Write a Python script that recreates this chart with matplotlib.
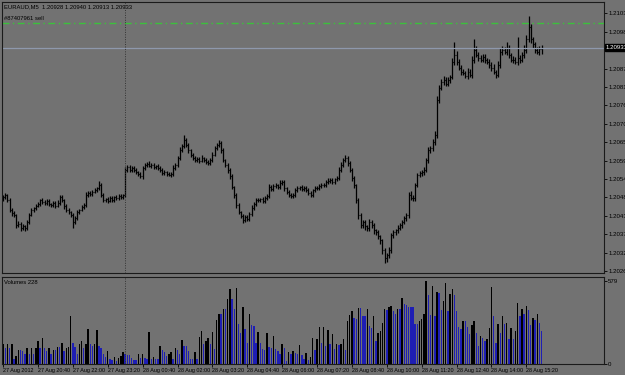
import numpy as np
import matplotlib.pyplot as plt
from matplotlib import transforms

# EURAUD M5 bars, 27 Aug 19:20 onwards; prices in points above 1.20000
first_open = 480
close_pts = [
    486, 492, 477, 447, 438, 432, 402, 405, 393, 399, 393, 411, 432, 447, 453, 459, 465, 477, 471, 468,
    474, 465, 462, 468, 459, 468, 486, 477, 459, 447, 441, 432, 411, 423, 441, 447, 456, 462, 492, 498,
    495, 501, 507, 513, 522, 492, 477, 480, 474, 483, 477, 486, 483, 489, 486, 492, 567, 576, 567, 573,
    567, 561, 555, 549, 573, 582, 585, 579, 582, 576, 579, 573, 567, 558, 561, 555, 552, 555, 573, 582,
    603, 627, 639, 657, 642, 627, 612, 603, 597, 600, 594, 603, 597, 591, 588, 597, 612, 633, 642, 648,
    627, 597, 582, 567, 549, 516, 492, 462, 441, 429, 417, 426, 420, 435, 453, 465, 477, 477, 480, 474,
    483, 489, 516, 510, 519, 522, 516, 528, 531, 513, 501, 492, 489, 492, 507, 513, 516, 510, 513, 507,
    498, 492, 507, 513, 513, 519, 522, 522, 531, 534, 537, 531, 540, 543, 567, 582, 597, 603, 588, 567,
    543, 522, 477, 432, 402, 411, 399, 393, 411, 402, 387, 381, 369, 357, 327, 303, 312, 327, 372, 381,
    387, 393, 402, 411, 423, 432, 492, 483, 483, 522, 552, 558, 561, 567, 597, 627, 633, 651, 672, 777,
    813, 831, 837, 825, 837, 846, 891, 912, 891, 873, 861, 858, 849, 861, 852, 897, 927, 912, 903, 897,
    906, 897, 891, 882, 873, 861, 852, 882, 921, 927, 921, 933, 912, 897, 897, 891, 903, 897, 912, 927,
    957, 993, 957, 942, 927, 921, 928, 933,
]
up_wick = [
    6, 5, 4, 7, 5, 6, 4, 8, 5, 6, 4, 7, 5, 6, 4, 5, 7, 4, 6, 5,
    5, 7, 4, 6, 5, 8, 6, 5, 4, 6, 5, 4, 6, 5, 7, 4, 5, 6, 8, 5,
    6, 5, 7, 4, 12, 5, 6, 4, 7, 5, 6, 4, 5, 6, 5, 4, 9, 6, 5, 7,
    5, 6, 4, 5, 7, 6, 5, 8, 5, 6, 4, 7, 5, 6, 5, 4, 6, 5, 8, 6,
    7, 8, 6, 15, 5, 6, 4, 7, 5, 6, 5, 8, 4, 6, 5, 7, 8, 6, 5, 8,
    6, 5, 4, 7, 5, 6, 4, 5, 6, 4, 5, 7, 6, 5, 8, 6, 5, 7, 4, 6,
    5, 6, 9, 5, 6, 7, 4, 8, 6, 5, 4, 6, 5, 7, 6, 5, 4, 6, 5, 7,
    6, 5, 4, 6, 5, 7, 6, 5, 6, 8, 5, 6, 4, 7, 9, 8, 6, 10, 5, 6,
    5, 6, 4, 5, 7, 6, 5, 4, 8, 6, 5, 4, 6, 5, 4, 6, 8, 9, 7, 6,
    5, 8, 6, 7, 5, 6, 9, 12, 8, 6, 7, 5, 6, 8, 7, 9, 6, 8, 10, 12,
    8, 7, 10, 9, 8, 6, 12, 36, 10, 8, 7, 9, 6, 10, 8, 12, 30, 9, 8, 7,
    9, 8, 6, 7, 8, 10, 6, 12, 10, 9, 7, 15, 8, 6, 10, 7, 60, 9, 8, 12,
    14, 33, 9, 8, 7, 8, 9, 7,
]
down_wick = [
    5, 6, 7, 5, 8, 6, 9, 5, 7, 6, 8, 5, 6, 4, 5, 6, 4, 7, 5, 6,
    6, 5, 7, 5, 6, 4, 5, 6, 8, 5, 7, 6, 18, 6, 5, 7, 4, 6, 5, 6,
    5, 7, 4, 6, 5, 7, 6, 5, 6, 4, 7, 5, 6, 5, 7, 6, 5, 7, 6, 5,
    6, 5, 7, 6, 8, 5, 6, 4, 5, 7, 6, 5, 6, 7, 5, 6, 4, 7, 5, 6,
    5, 6, 7, 5, 6, 8, 5, 7, 6, 5, 6, 4, 7, 6, 5, 6, 5, 4, 7, 6,
    8, 6, 7, 9, 8, 7, 9, 8, 7, 6, 10, 6, 7, 5, 6, 7, 5, 6, 7, 5,
    6, 7, 5, 6, 5, 7, 6, 5, 6, 8, 7, 6, 5, 7, 5, 6, 7, 5, 6, 7,
    6, 5, 7, 6, 5, 6, 7, 5, 6, 5, 6, 7, 5, 6, 5, 6, 7, 5, 8, 7,
    8, 9, 10, 12, 9, 8, 10, 9, 8, 9, 10, 8, 9, 10, 12, 15, 10, 9, 8, 7,
    8, 7, 6, 8, 7, 9, 8, 7, 9, 8, 7, 6, 8, 9, 7, 8, 9, 8, 10, 9,
    10, 8, 9, 8, 7, 9, 8, 10, 9, 8, 9, 7, 8, 9, 8, 10, 9, 8, 9, 8,
    7, 9, 8, 10, 9, 8, 9, 8, 10, 9, 8, 9, 10, 8, 9, 8, 9, 10, 8, 9,
    10, 9, 12, 10, 9, 8, 9, 15,
]
volumes = [
    138, 114, 138, 114, 138, 36, 57, 100, 100, 93, 67, 114, 72, 114, 72, 114, 157, 114, 181, 114,
    93, 114, 67, 100, 100, 121, 121, 145, 93, 114, 121, 336, 150, 121, 72, 138, 157, 114, 138, 243,
    143, 129, 138, 236, 129, 114, 72, 50, 93, 36, 29, 50, 21, 43, 57, 86, 72, 64, 64, 43,
    29, 29, 72, 43, 67, 43, 36, 222, 36, 50, 36, 36, 129, 100, 86, 57, 72, 86, 36, 114,
    100, 72, 165, 129, 129, 93, 36, 36, 86, 36, 186, 229, 143, 160, 181, 143, 222, 107, 305, 348,
    348, 384, 384, 455, 520, 455, 384, 529, 276, 217, 395, 241, 145, 350, 272, 265, 145, 222, 150, 107,
    100, 215, 120, 110, 193, 107, 90, 72, 143, 114, 21, 86, 72, 93, 80, 70, 136, 64, 36, 79,
    29, 50, 179, 100, 172, 258, 150, 258, 129, 236, 143, 207, 107, 143, 130, 143, 172, 100, 300, 340,
    372, 320, 315, 393, 393, 336, 336, 386, 265, 250, 336, 157, 215, 229, 286, 386, 379, 395, 408, 372,
    350, 386, 386, 458, 420, 410, 400, 400, 398, 279, 279, 300, 315, 350, 579, 479, 343, 543, 336, 500,
    493, 379, 443, 565, 372, 486, 522, 479, 372, 258, 243, 300, 300, 258, 207, 272, 300, 215, 129, 193,
    179, 157, 172, 250, 536, 336, 150, 279, 215, 336, 279, 286, 172, 250, 172, 229, 429, 336, 386, 350,
    408, 379, 272, 322, 308, 350, 286, 228,
]

time_labels = ["27 Aug 2012", "27 Aug 20:40", "27 Aug 22:00", "27 Aug 23:20",
               "28 Aug 00:40", "28 Aug 02:00", "28 Aug 03:20", "28 Aug 04:40",
               "28 Aug 06:00", "28 Aug 07:20", "28 Aug 08:40", "28 Aug 10:00",
               "28 Aug 11:20", "28 Aug 12:40", "28 Aug 14:00", "28 Aug 15:20"]
price_ticks = [1.20265, 1.20320, 1.20375, 1.20430, 1.20485, 1.20540, 1.20595,
               1.20650, 1.20705, 1.20760, 1.20815, 1.20870, 1.20980, 1.21035]
bid = 1.20933
order_price = 1.21005
day_start = 56  # first bar of 28 Aug

plt.rcParams['font.family'] = ['Liberation Sans', 'DejaVu Sans']
BG = '#727272'
BLUE = '#1e1eb4'
FS = 4.2

close = 1.2 + np.array(close_pts) / 1e5
opens = np.r_[1.2 + first_open / 1e5, close[:-1]]
high = np.maximum(opens, close) + np.array(up_wick) / 1e5
low = np.minimum(opens, close) - np.array(down_wick) / 1e5
idx = np.arange(len(close))
vol = np.array(volumes)
vcol = ['black'] + ['black' if vol[i] > vol[i - 1] else BLUE for i in range(1, len(vol))]

fig = plt.figure(figsize=(6.25, 3.75), dpi=100, facecolor=BG)
ax = fig.add_axes([2 / 625, 102 / 375, 602 / 625, 271 / 375], facecolor=BG)
axv = fig.add_axes([2 / 625, 11 / 375, 602 / 625, 87 / 375], facecolor=BG, sharex=ax)

# price bars
ax.vlines(idx, low, high, color='black', lw=0.9)
ax.hlines(opens, idx - 0.45, idx, color='black', lw=0.8)
ax.hlines(close, idx, idx + 0.45, color='black', lw=0.8)

ax.axhline(order_price, color='#3cc03c', lw=1.0, ls=(0, (5, 2.5, 1, 2.5)))
ax.axhline(bid, color='#8e98ac', lw=0.9)
for a in (ax, axv):
    a.axvline(day_start - 0.3, color='#333333', lw=0.7, ls=(0, (1, 1.5)))

ax.set_xlim(-0.5, 275.6)
ax.set_ylim(1.20259, 1.21069)
ax.yaxis.tick_right()
ax.set_yticks(price_ticks)
ax.set_yticklabels([f"{p:.5f}" for p in price_ticks])
ax.tick_params(axis='y', direction='out', length=2, width=0.6, labelsize=4.4, pad=1, colors='black')
ax.tick_params(axis='x', bottom=False, labelbottom=False)

tr = transforms.blended_transform_factory(ax.transAxes, ax.transData)
ax.text(1.003, bid, f"{bid:.5f}", transform=tr, color='white', fontsize=4.4, va='center', ha='left',
        bbox=dict(facecolor='black', edgecolor='black', pad=0.8), clip_on=False)

# volumes
axv.bar(idx, vol, width=0.65, color=vcol, linewidth=0)
axv.set_ylim(0, 607)
axv.yaxis.tick_right()
axv.set_yticks([0, 579])
axv.tick_params(axis='y', direction='out', length=2, width=0.6, labelsize=4.4, pad=1)
axv.set_xticks(idx[::16][:len(time_labels)])
axv.set_xticklabels(time_labels)
axv.tick_params(axis='x', direction='out', length=2, width=0.6, labelsize=3.9, pad=1)
for lab in axv.get_xticklabels():
    lab.set_ha('left')

for a in (ax, axv):
    for s in a.spines.values():
        s.set_color('#1a1a1a')
        s.set_linewidth(0.8)

fig.text(4 / 625, 1 - 7 / 375, "EURAUD,M5  1.20928 1.20940 1.20913 1.20933", fontsize=FS, va='center')
fig.text(4 / 625, 1 - 19 / 375, "#87407961 sell", fontsize=FS, va='center')
fig.text(4 / 625, 1 - 282 / 375, "Volumes 228", fontsize=FS, va='center')

fig.savefig("out.png", dpi=100, facecolor=BG)
